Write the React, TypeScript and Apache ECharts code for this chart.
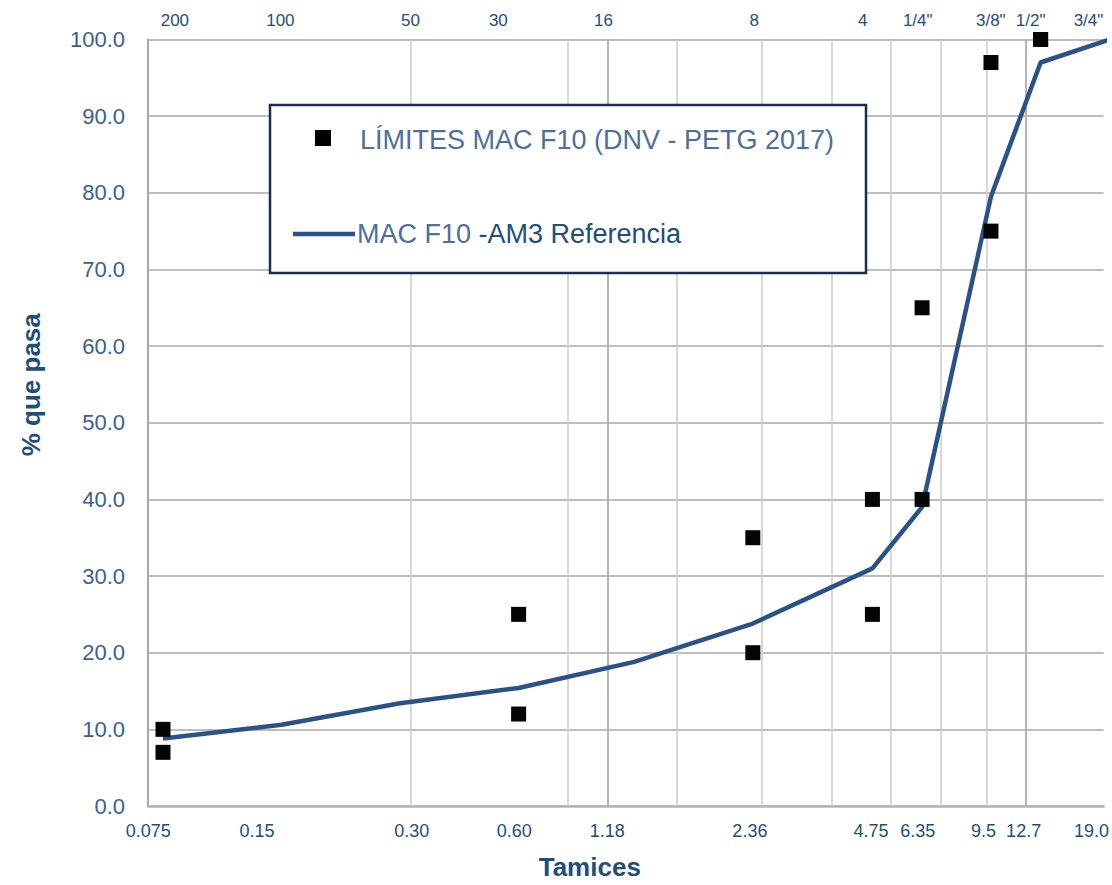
import React, { useEffect, useRef } from 'react';
import * as echarts from 'echarts';

// ---- data ----
const sieveSizes = [0.075, 0.15, 0.3, 0.6, 1.18, 2.36, 4.75, 6.35, 9.5, 12.7, 19.0];
const referenceCurve = [8.8, 10.6, 13.4, 15.4, 18.8, 23.8, 31.0, 39.0, 79.5, 97.0, 100.0];

const limitSieves = [0.075, 0.6, 2.36, 4.75, 6.35, 9.5, 12.7, 19.0];
const limitLower = [7, 12, 20, 25, 40, 75, 100, 100];
const limitUpper = [10, 25, 35, 40, 65, 97, 100, 100];

const bottomTickLabels = ['0.075', '0.15', '0.30', '0.60', '1.18', '2.36', '4.75', '6.35', '9.5', '12.7', '19.0'];
const topTickLabels = ['200', '100', '50', '30', '16', '8', '4', '1/4"', '3/8"', '1/2"', '3/4"'];

// where the original chart placed its hand-set sieve labels (in mm, on the log axis)
const bottomLabelAt = [0.0688, 0.13, 0.321, 0.585, 1.008, 2.32, 4.71, 6.19, 9.1, 11.5, 17.1];
const topLabelAt = [0.0804, 0.149, 0.319, 0.533, 0.985, 2.38, 4.49, 6.19, 9.49, 11.98, 16.8];

// vertical grid lines of the original chart (mm)
const lightGridAt = [0.323, 0.798, 1.508, 2.491, 3.748, 5.29, 7.084, 9.263];
const darkGridAt = [1.008, 11.63];

const X_MIN = 0.0687;
const X_MAX = 18.35;

const LIMITS_NAME = 'LÍMITES MAC F10 (DNV - PETG 2017)';
const CURVE_NAME_A = 'MAC F10';
const CURVE_NAME_B = '-AM3 Referencia';

const NARROW = "'Liberation Sans Narrow', 'Arial Narrow', 'Liberation Sans', Arial, sans-serif";
const REG = "'Liberation Sans', Arial, sans-serif";

function nearestLabel(v: number, at: number[], labels: string[]) {
  let best = 0;
  let bd = Infinity;
  for (let i = 0; i < at.length; i++) {
    const d = Math.abs(Math.log(v) - Math.log(at[i]));
    if (d < bd) { bd = d; best = i; }
  }
  return labels[best];
}

export default function App() {
  const ref = useRef<HTMLDivElement>(null);

  useEffect(() => {
    document.body.style.margin = '0';
    if (!ref.current) return;
    const chart = echarts.init(ref.current, null, { renderer: 'svg' });

    const curveData = sieveSizes.map((s, i) => [s, referenceCurve[i]]);
    const limitData = [
      ...limitSieves.map((s, i) => [s, limitLower[i]]),
      ...limitSieves.map((s, i) => [s, limitUpper[i]]),
    ];

    const gridLines = [
      ...lightGridAt.map((v) => ({ xAxis: v, lineStyle: { color: '#cfcfcf', width: 1.6, type: 'solid' } })),
      ...darkGridAt.map((v) => ({ xAxis: v, lineStyle: { color: '#acacac', width: 1.8, type: 'solid' } })),
    ];

    chart.setOption({
      animation: false,
      backgroundColor: '#ffffff',
      grid: { left: 148, right: 7, top: 39.5, bottom: 78.5, containLabel: false },
      xAxis: [
        {
          type: 'log',
          logBase: 10,
          min: X_MIN,
          max: X_MAX,
          position: 'bottom',
          name: 'Tamices',
          nameLocation: 'middle',
          nameGap: 48,
          nameTextStyle: {
            fontFamily: REG,
            fontWeight: 'bold',
            fontSize: 26,
            color: '#1F4E79',
            padding: [0, 72, 0, 0],
          },
          axisLine: { show: true, lineStyle: { color: '#b4b4b4', width: 2.5 } },
          axisTick: { show: false },
          splitLine: { show: false },
          minorSplitLine: { show: false },
          axisLabel: {
            customValues: bottomLabelAt,
            formatter: (v: number) => nearestLabel(v, bottomLabelAt, bottomTickLabels),
            fontFamily: NARROW,
            fontSize: 18,
            color: '#1F4E79',
            margin: 16,
          },
        },
        {
          type: 'log',
          logBase: 10,
          min: X_MIN,
          max: X_MAX,
          position: 'top',
          axisLine: { show: false },
          axisTick: { show: false },
          splitLine: { show: false },
          axisLabel: {
            customValues: topLabelAt,
            formatter: (v: number) => nearestLabel(v, topLabelAt, topTickLabels),
            fontFamily: NARROW,
            fontSize: 17,
            color: '#1F4E79',
            margin: 11,
          },
        },
      ],
      yAxis: {
        type: 'value',
        min: 0,
        max: 100,
        interval: 10,
        name: '% que pasa',
        nameLocation: 'middle',
        nameRotate: 90,
        nameGap: 104,
        nameTextStyle: {
          fontFamily: REG,
          fontWeight: 'bold',
          fontSize: 26,
          color: '#1F4E79',
          padding: [0, 0, 0, 76],
        },
        axisLine: { show: true, lineStyle: { color: '#a8a8a8', width: 2 } },
        axisTick: { show: false },
        splitLine: { show: true, lineStyle: { color: '#bdbdbd', width: 1.8 } },
        axisLabel: {
          formatter: (v: number) => v.toFixed(1),
          fontFamily: NARROW,
          fontSize: 22,
          color: '#3A5F8F',
          margin: 23,
        },
      },
      series: [
        {
          name: CURVE_NAME_A + ' ' + CURVE_NAME_B,
          type: 'line',
          xAxisIndex: 0,
          data: curveData,
          showSymbol: false,
          symbol: 'none',
          lineStyle: { color: '#2B5286', width: 4.5 },
          z: 3,
          markLine: {
            silent: true,
            symbol: ['none', 'none'],
            label: { show: false },
            emphasis: { disabled: true },
            z: 1,
            data: gridLines,
          },
        },
        {
          name: LIMITS_NAME,
          type: 'scatter',
          xAxisIndex: 0,
          data: limitData,
          symbol: 'rect',
          symbolSize: 15,
          itemStyle: { color: '#050505', opacity: 1 },
          z: 4,
        },
      ],
      graphic: [
        {
          type: 'rect',
          z: 100,
          shape: { x: 270, y: 105, width: 596, height: 168 },
          style: { fill: '#ffffff', stroke: '#1b2f4d', lineWidth: 2.5 },
        },
        {
          type: 'rect',
          z: 101,
          shape: { x: 315, y: 130, width: 16, height: 16 },
          style: { fill: '#000000' },
        },
        {
          type: 'text',
          z: 101,
          x: 360,
          y: 140,
          style: {
            text: LIMITS_NAME,
            fontFamily: REG,
            fontSize: 27,
            fill: '#4F6F99',
            verticalAlign: 'middle',
            align: 'left',
          },
        },
        {
          type: 'line',
          z: 101,
          shape: { x1: 293, y1: 234, x2: 355, y2: 234 },
          style: { stroke: '#2B5286', lineWidth: 4.5 },
        },
        {
          type: 'text',
          z: 101,
          x: 357,
          y: 234,
          style: {
            text: '{a|' + CURVE_NAME_A + '} {b|' + CURVE_NAME_B + '}',
            verticalAlign: 'middle',
            align: 'left',
            rich: {
              a: { fontFamily: REG, fontSize: 27, fill: '#4F6F99', color: '#4F6F99' },
              b: { fontFamily: REG, fontSize: 27, fill: '#1F4E79', color: '#1F4E79' },
            },
            fontFamily: REG,
            fontSize: 27,
          },
        },
      ],
    });

    return () => chart.dispose();
  }, []);

  return <div ref={ref} style={{ width: 1112, height: 885 }} />;
}
